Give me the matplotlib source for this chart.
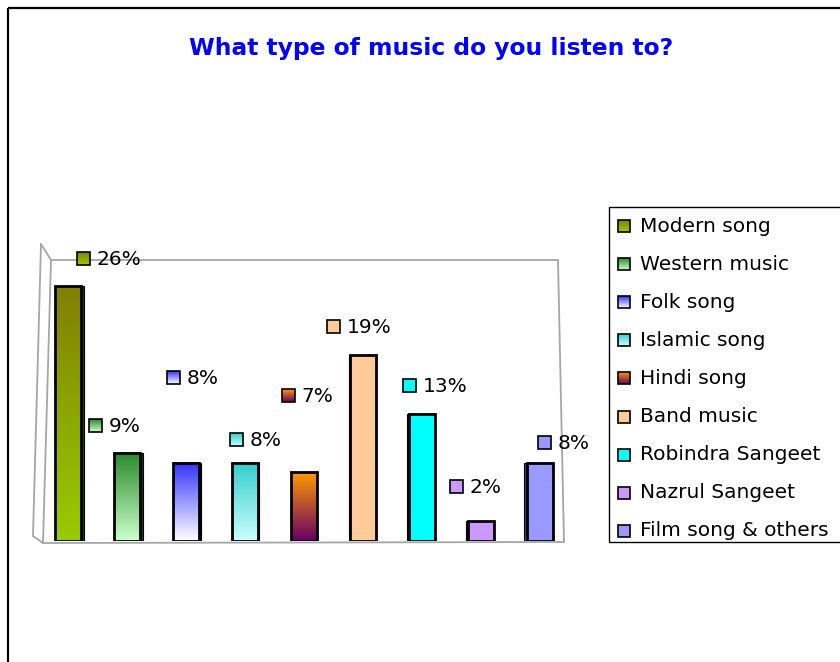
import numpy as np
import matplotlib
matplotlib.use('Agg')
import matplotlib.pyplot as plt
from matplotlib.colors import to_rgb
from matplotlib.patches import Rectangle

categories = ['Modern song', 'Western music', 'Folk song', 'Islamic song', 'Hindi song',
              'Band music', 'Robindra Sangeet', 'Nazrul Sangeet', 'Film song & others']
values = [26, 9, 8, 8, 7, 19, 13, 2, 8]
top_colors = ['#808000', '#2A8A2A', '#3333FF', '#33CCCC', '#FF9900',
              '#FFCC99', '#00FFFF', '#CC99FF', '#9999FF']
bottom_colors = ['#99CC00', '#CCFFCC', '#FFFFFF', '#CCFFFF', '#660066',
                 '#FFCC99', '#00FFFF', '#CC99FF', '#9999FF']
title = 'What type of music do you listen to?'

# label placement offsets (pixels) relative to bar top
label_dx = [15, -31.5, -12, -8, -15.5, -29, -12.5, -24, 4.5]
label_dy = [28, 27, 85, 23, 77, 28, 28, 35, 20]

W, H = 840, 662
fig = plt.figure(figsize=(W / 100, H / 100), dpi=100)

ov = fig.add_axes([0, 0, 1, 1], zorder=0)
ov.set_xlim(0, W)
ov.set_ylim(H, 0)
ov.axis('off')

ax = fig.add_axes([38.5 / W, (H - 541) / H, 531 / W, 294 / H], zorder=1)
ax.set_xlim(-0.5, 8.5)
ax.set_ylim(0, 30)
ax.axis('off')


def grad(c_top, c_bot, n=64):
    t = np.linspace(0, 1, n)[:, None, None]
    a = np.array(to_rgb(c_top))[None, None, :]
    b = np.array(to_rgb(c_bot))[None, None, :]
    return (1 - t) * a + t * b


# chart border
ov.add_patch(Rectangle((8, 8), 1000, 1000, fill=False, edgecolor='black', lw=1.6, zorder=1))

# 3D wall frame
wall = '#a6a6a6'
for (x0, y0), (x1, y1) in [((41, 244), (33, 536)), ((41, 244), (51, 260)),
                           ((51, 260), (43, 543)), ((33, 536), (43, 543)),
                           ((51, 260), (558, 260)), ((558, 260), (564, 542)),
                           ((43, 543), (564, 542))]:
    ov.plot([x0, x1], [y0, y1], color=wall, lw=1.3, zorder=2, solid_capstyle='round')

# title
fig.text(431 / W, 1 - 48 / H, title, color='#0000FF', fontweight='bold', fontsize=16.8,
         family='DejaVu Sans', ha='center', va='center')

x = np.arange(len(values))
w = 0.44
px_per_unit = 531 / 9.0

# side faces (pseudo 3D)
for i, v in enumerate(values):
    c = ax.transData.transform((i, 0))[0]
    d = abs(305 - c) / 70.0 / px_per_unit
    if d <= 0:
        continue
    dark = tuple(0.45 * np.array(to_rgb(top_colors[i])))
    xs = i + w / 2 + d / 2 if c < 305 else i - w / 2 - d / 2
    ax.bar(xs, v, width=d, color=dark, edgecolor='black', lw=0.8, zorder=1.5)

# bars with gradients
for i, v in enumerate(values):
    ax.imshow(grad(top_colors[i], bottom_colors[i]), extent=[i - w / 2, i + w / 2, 0, v],
              aspect='auto', origin='upper', interpolation='bilinear', zorder=2)
ax.bar(x, values, width=w, fill=False, edgecolor='black', linewidth=2.0, zorder=3)

# data labels
for i, v in enumerate(values):
    p = ax.transData.transform((i, v))
    sx = p[0] + label_dx[i]
    sy = (H - p[1]) - label_dy[i]
    ov.imshow(grad(top_colors[i], bottom_colors[i]), extent=[sx - 6.5, sx + 6.5, sy + 6.5, sy - 6.5],
              aspect='auto', origin='upper', interpolation='bilinear', zorder=4)
    ov.add_patch(Rectangle((sx - 6.5, sy - 6.5), 13, 13, fill=False, edgecolor='black', lw=1.2, zorder=5))
    ov.text(sx + 13, sy + 1, f'{v}%', va='center', ha='left', fontsize=14.5,
            family='DejaVu Sans', color='black', zorder=6)

# legend
ov.add_patch(Rectangle((609, 207), 400, 335, facecolor='white', edgecolor='black', lw=1.0, zorder=3))
for k, name in enumerate(categories):
    ly = 226 + 38.1 * k
    lx = 624
    ov.imshow(grad(top_colors[k], bottom_colors[k]), extent=[lx - 6, lx + 6, ly + 6, ly - 6],
              aspect='auto', origin='upper', interpolation='bilinear', zorder=4)
    ov.add_patch(Rectangle((lx - 6, ly - 6), 12, 12, fill=False, edgecolor='black', lw=1.2, zorder=5))
    ov.text(640, ly, name, va='center', ha='left', fontsize=14.5, family='DejaVu Sans',
            color='black', zorder=6)

fig.savefig('out.png', dpi=100)
